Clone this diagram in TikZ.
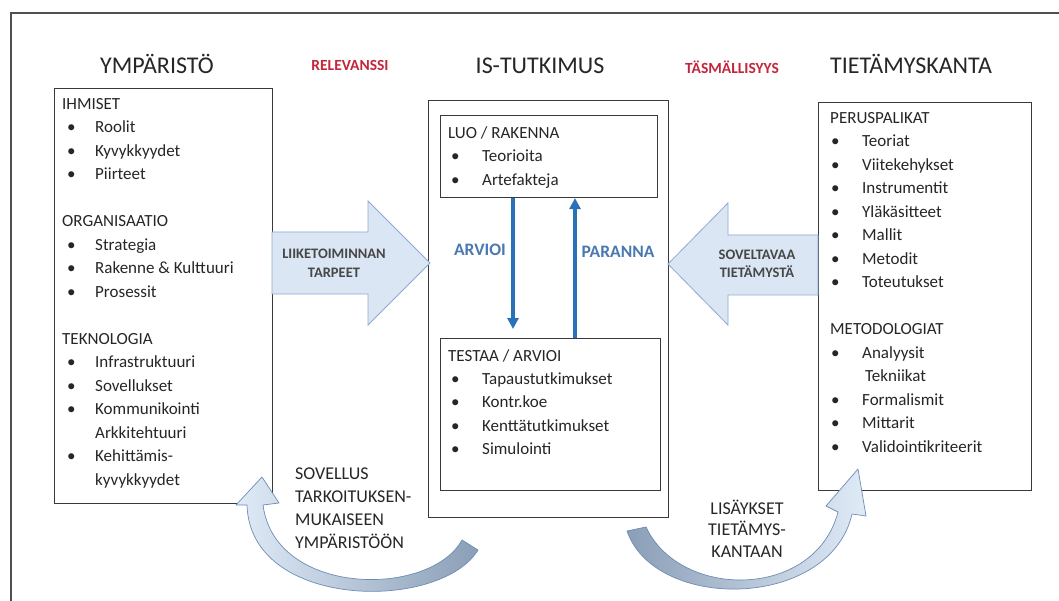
\documentclass[tikz,border=0pt]{standalone}
\usepackage{fontspec}
\setmainfont{Carlito}
\usetikzlibrary{arrows.meta}

\definecolor{ink}{HTML}{262626}
\definecolor{boxline}{HTML}{3A3A3A}
\definecolor{frameline}{HTML}{505050}
\definecolor{blockfill}{HTML}{DAE6F4}
\definecolor{blockline}{HTML}{8EAAD0}
\definecolor{curvedark}{HTML}{8A9EB7}
\definecolor{curvelight}{HTML}{E0EBF7}
\definecolor{curveline}{HTML}{6D8DB5}
\definecolor{flowblue}{HTML}{2A72B8}
\definecolor{labelblue}{HTML}{4A78B0}
\definecolor{accentred}{HTML}{C3263A}

% bullet item: indent, bullet box width, text
\newcommand\bitem[3]{\hspace*{#1}\makebox[#2][l]{\textbullet}#3}

\tikzset{
  panel/.style={draw=boxline, line width=1.1pt, anchor=north west, inner sep=0pt},
  heading/.style={font=\fontsize{24}{28}\selectfont, text=ink, anchor=base},
  accent/.style={font=\fontsize{15.5}{18}\selectfont\bfseries, text=accentred, anchor=base},
  listtext/.style={font=\fontsize{17}{23.5}\selectfont, text=ink, align=left, anchor=north west, inner sep=0pt},
  blockarrow/.style={fill=blockfill, draw=blockline, line width=0.8pt, line join=miter},
  blocklabel/.style={font=\fontsize{14.5}{18.5}\selectfont\bfseries, text=ink!85, align=center, inner sep=0pt},
  flow/.style={draw=flowblue, line width=3.2pt, -{Triangle[width=11pt,length=11pt]}},
  flowlabel/.style={font=\fontsize{17.5}{22}\selectfont\bfseries, text=labelblue, inner sep=0pt},
  curvearrow/.style={draw=curveline, line width=0.7pt, line join=round},
  curvelabel/.style={font=\fontsize{18}{23}\selectfont, text=ink, inner sep=0pt},
}

\begin{document}
\begin{tikzpicture}[x=1pt, y=-1pt]
\useasboundingbox (0,0) rectangle (1059,601);
\fill[white] (0,0) rectangle (1059,601);

% outer frame, open to the right and bottom
\coordinate (frameBL) at (11,601);
\coordinate (frameTL) at (11,13);
\coordinate (frameTR) at (1059,13);
\draw[frameline, line width=1.3pt] (frameBL) -- (frameTL) -- (frameTR);

% column headings
\node[heading] (envtitle) at (157,74) {YMPÄRISTÖ};
\node[heading] (istitle) at (540,74) {IS-TUTKIMUS};
\node[heading] (kbtitle) at (911,74) {TIETÄMYSKANTA};
\node[accent] (relevance) at (350,71) {RELEVANSSI};
\node[accent] (rigor) at (732,74) {TÄSMÄLLISYYS};

% panels
\node[panel, minimum width=218pt, minimum height=415pt] (env) at (54,88) {};
\node[panel, minimum width=240pt, minimum height=417pt] (isr) at (428,100) {};
\node[panel, minimum width=217pt, minimum height=82pt] (build) at (440,115) {};
\node[panel, minimum width=220pt, minimum height=152pt] (eval) at (440,338) {};
\node[panel, minimum width=213pt, minimum height=388pt] (kb) at (818,102) {};

% environment list (top of first strut = first baseline - 16.45)
\node[listtext] (envlist) at (62,92.5) {%
\strut IHMISET\\
\bitem{5pt}{28pt}{Roolit}\\
\bitem{5pt}{28pt}{Kyvykkyydet}\\
\bitem{5pt}{28pt}{Piirteet}\\[23.5pt]
ORGANISAATIO\\
\bitem{5pt}{28pt}{Strategia}\\
\bitem{5pt}{28pt}{Rakenne \& Kulttuuri}\\
\bitem{5pt}{28pt}{Prosessit}\\[23.5pt]
TEKNOLOGIA\\
\bitem{5pt}{28pt}{Infrastruktuuri}\\
\bitem{5pt}{28pt}{Sovellukset}\\
\bitem{5pt}{28pt}{Kommunikointi}\\
\hspace*{33pt}Arkkitehtuuri\\
\bitem{5pt}{28pt}{Kehittämis-}\\
\hspace*{33pt}kyvykkyydet};

% build box
\node[listtext] (buildlist) at (448,121.5) {%
\strut LUO / RAKENNA\\
\bitem{3pt}{31pt}{Teorioita}\\
\bitem{3pt}{31pt}{Artefakteja}};

% evaluate box
\node[listtext, font=\fontsize{17}{23.3}\selectfont] (evallist) at (448,344.7) {%
\strut TESTAA / ARVIOI\\
\bitem{3pt}{31pt}{Tapaustutkimukset}\\
\bitem{3pt}{31pt}{Kontr.koe}\\
\bitem{3pt}{31pt}{Kenttätutkimukset}\\
\bitem{3pt}{31pt}{Simulointi}};

% knowledge base list
\node[listtext] (kblist) at (830,106.5) {%
\strut PERUSPALIKAT\\
\bitem{1pt}{31pt}{Teoriat}\\
\bitem{1pt}{31pt}{Viitekehykset}\\
\bitem{1pt}{31pt}{Instrumentit}\\
\bitem{1pt}{31pt}{Yläkäsitteet}\\
\bitem{1pt}{31pt}{Mallit}\\
\bitem{1pt}{31pt}{Metodit}\\
\bitem{1pt}{31pt}{Toteutukset}\\[23.5pt]
METODOLOGIAT\\
\bitem{1pt}{31pt}{Analyysit}\\
\hspace*{35pt}Tekniikat\\
\bitem{1pt}{31pt}{Formalismit}\\
\bitem{1pt}{31pt}{Mittarit}\\
\bitem{1pt}{31pt}{Validointikriteerit}};

% block arrow: business needs
\draw[blockarrow] (272,232) -- (368,232) -- (368,201) -- (430,263) -- (368,325)
  -- (368,294) -- (272,294) -- cycle;
\node[blocklabel] (needs) at (334,263) {LIIKETOIMINNAN\\TARPEET};

% block arrow: applicable knowledge
\draw[blockarrow] (818,235) -- (728,235) -- (728,203) -- (668,264) -- (728,325)
  -- (728,295) -- (818,295) -- cycle;
\node[blocklabel] (knowledge) at (757,264) {SOVELTAVAA\\TIETÄMYSTÄ};

% assess / refine cycle
\coordinate (downx) at (513,0);
\coordinate (upx) at (575,0);
\draw[flow, shorten >=9pt] (downx |- build.south) -- (downx |- eval.north);
\draw[flow] (upx |- eval.north) -- (upx |- build.south);
\node[flowlabel] (assess) at (480,250) {ARVIOI};
\node[flowlabel] (refine) at (618,252) {PARANNA};

% curved arrow back into the environment
\draw[curvearrow, left color=curvelight, right color=curvedark]
  (478,550) .. controls (440,612) and (250,610) .. (247,505)
  -- (236,505) -- (262,477) -- (279,503) -- (263,505)
  .. controls (275,597) and (430,598) .. (462,540) -- cycle;
\node[curvelabel, align=left, anchor=north west] (application) at (295,462.9)
  {\strut SOVELLUS\\TARKOITUKSEN-\\MUKAISEEN\\YMPÄRISTÖÖN};

% curved arrow into the knowledge base
\draw[curvearrow, left color=curvedark, right color=curvelight]
  (627,531) .. controls (655,612) and (830,610) .. (852,514)
  -- (866,516) -- (858,469) -- (826,506) -- (838,512)
  .. controls (815,600) and (680,600) .. (646,527) -- cycle;
\node[curvelabel, align=center, anchor=north, font=\fontsize{18}{21.5}\selectfont] (additions) at (747,499)
  {\strut LISÄYKSET\\TIETÄMYS-\\KANTAAN};

\end{tikzpicture}
\end{document}
